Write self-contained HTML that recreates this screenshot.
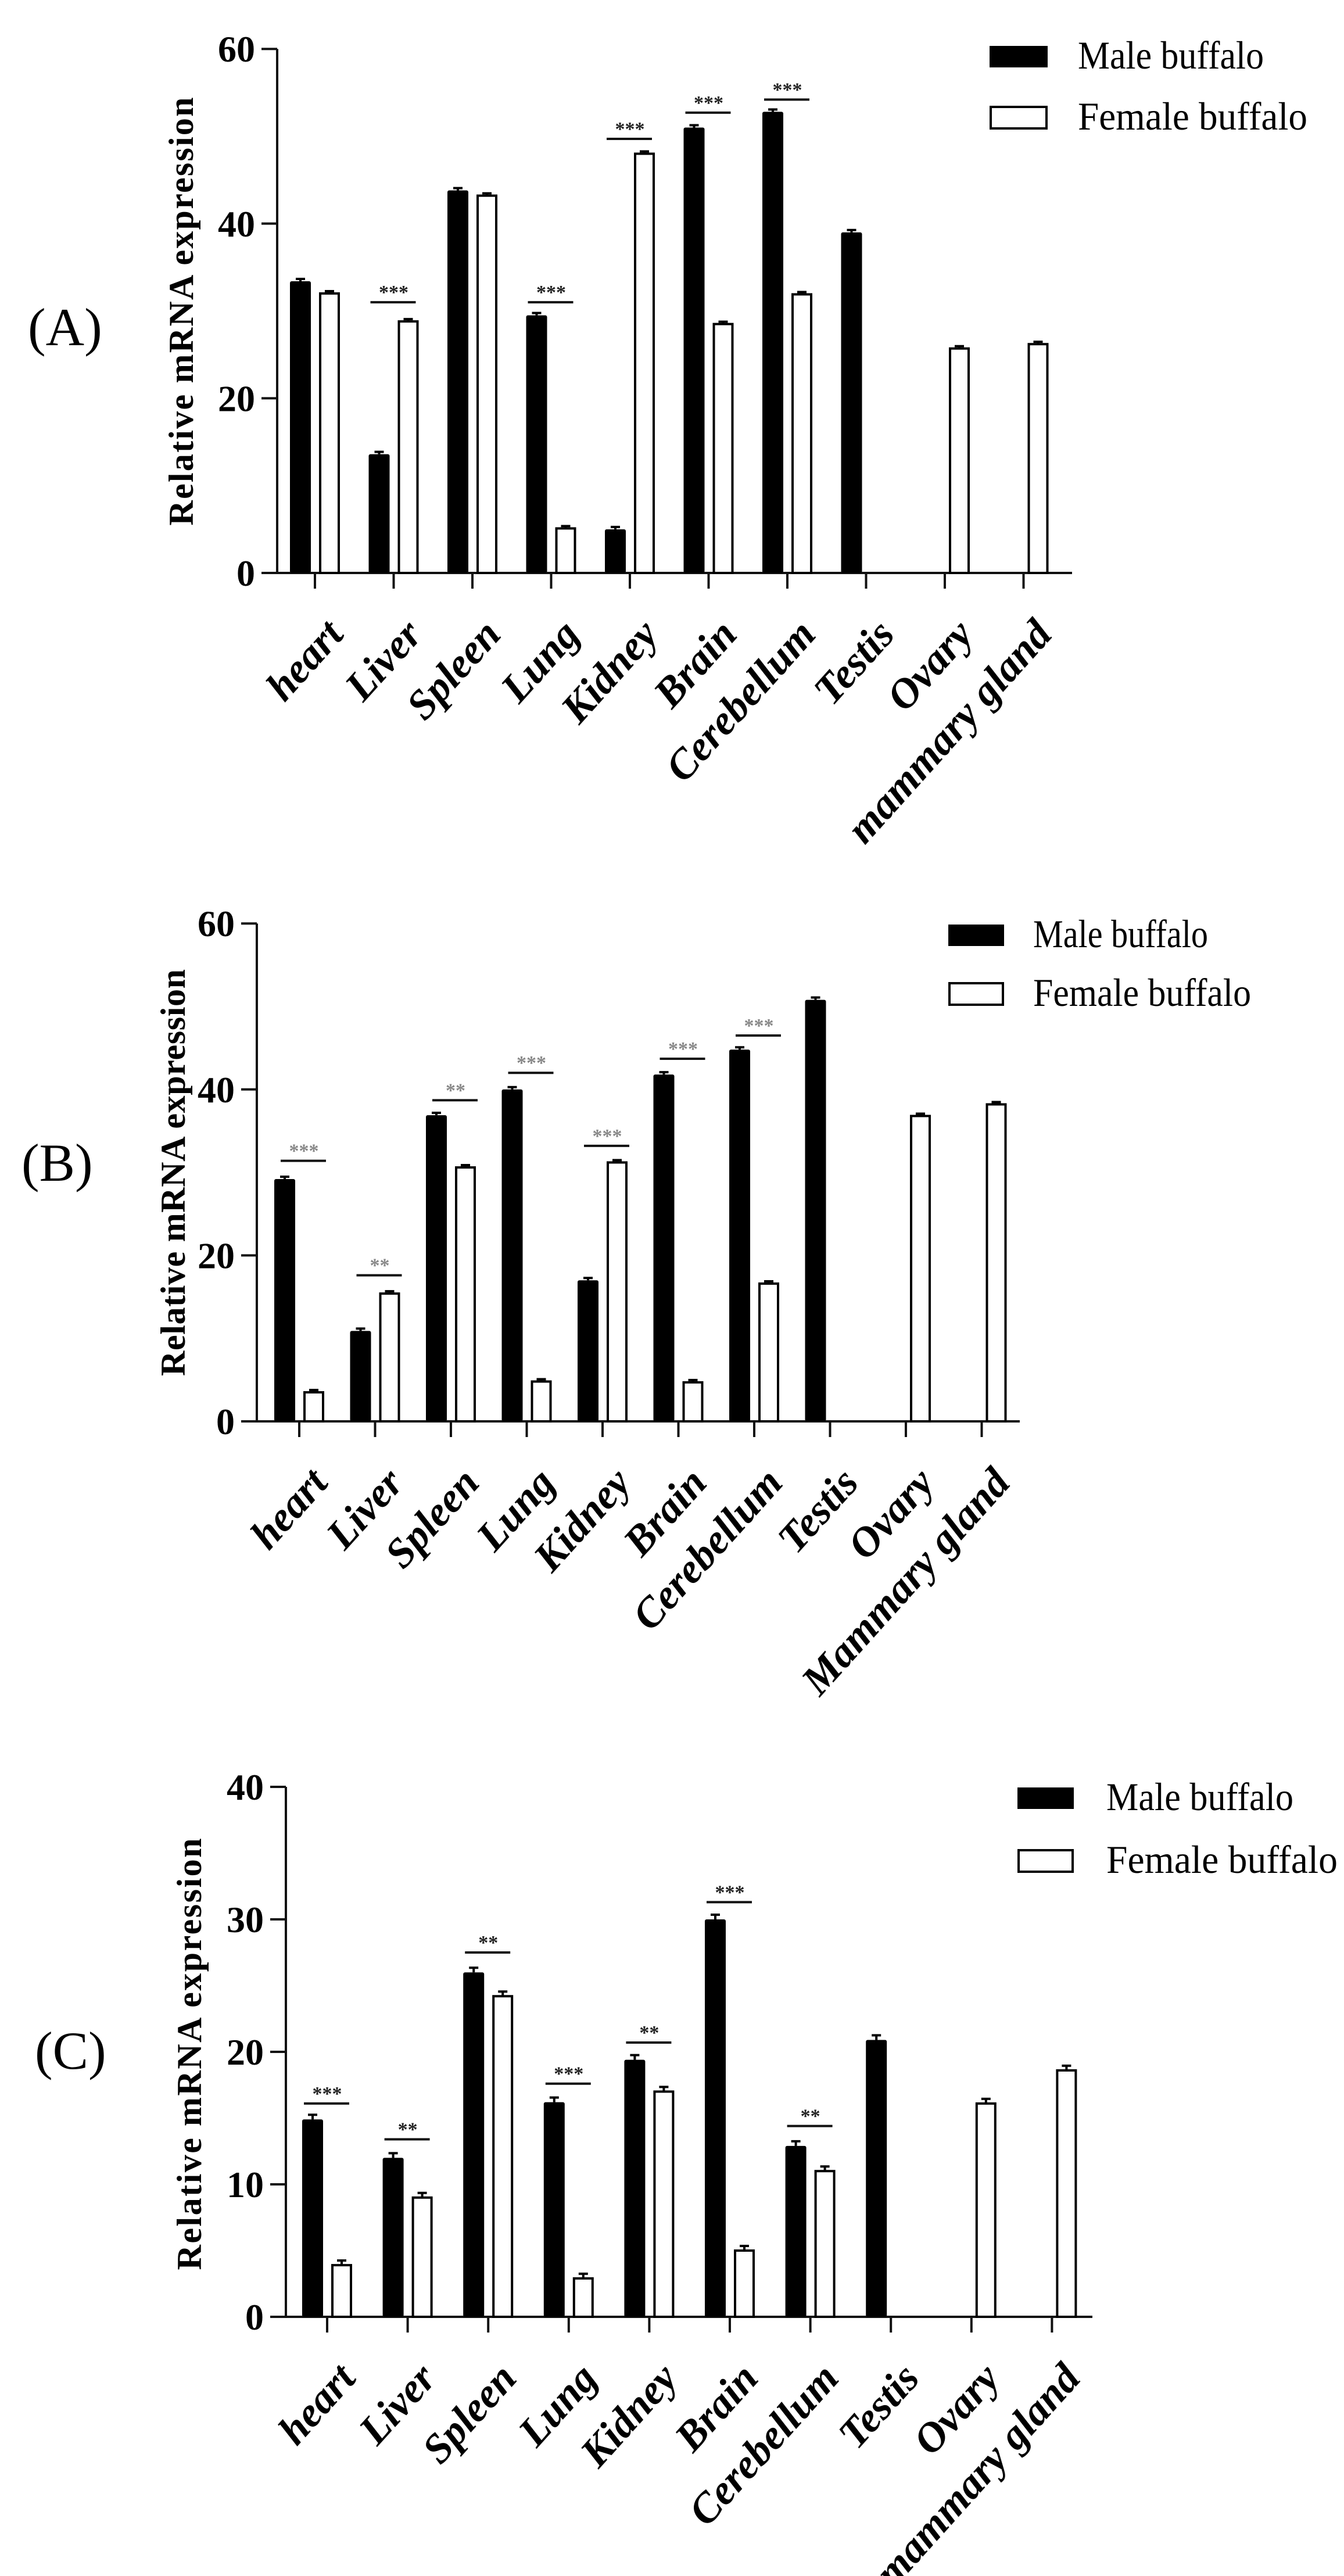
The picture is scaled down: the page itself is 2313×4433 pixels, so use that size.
<!DOCTYPE html>
<html><head><meta charset="utf-8"><style>
html,body{margin:0;padding:0;background:#fff}
svg{display:block}
text{font-family:"Liberation Serif",serif}
</style></head><body>
<svg id="s" width="2313" height="4433" viewBox="0 0 2313 4433" xmlns="http://www.w3.org/2000/svg">
<rect width="2313" height="4433" fill="#fff"/>
</svg>
<script>
var NS="http://www.w3.org/2000/svg",S=document.getElementById('s');
function el(t,a,txt){var e=document.createElementNS(NS,t);for(var k in a)e.setAttribute(k,a[k]);if(txt!=null)e.textContent=txt;S.appendChild(e);return e;}
function panel(o){
  var top=o.y0-o.ymax*o.ppu;
  el('line',{x1:o.ax,y1:top,x2:o.ax,y2:o.y0+2,stroke:'#111','stroke-width':4});
  el('line',{x1:o.ax,y1:o.y0,x2:o.xend,y2:o.y0,stroke:'#111','stroke-width':4});
  for(var v=0;v<=o.ymax;v+=o.step){
    var y=o.y0-v*o.ppu;
    el('line',{x1:o.ax-27,y1:y,x2:o.ax,y2:y,stroke:'#111','stroke-width':4});
    el('text',{x:o.ax-38,y:y+22,'text-anchor':'end','font-size':64,'font-weight':'bold'},String(v));
  }
  el('text',{transform:'translate('+o.ylx+','+o.yly+') rotate(-90)','text-anchor':'middle','font-size':60,'font-weight':'bold',textLength:o.yll,lengthAdjust:'spacing'},'Relative mRNA expression');
  el('text',{x:o.tagx,y:o.tagy,'font-size':92},o.tag);
  for(var i=0;i<10;i++){
    var c=o.c0+i*o.sp,b=o.bars[i];
    el('line',{x1:c,y1:o.y0,x2:c,y2:o.y0+27,stroke:'#111','stroke-width':4});
    if(b[0]>0){var h=b[0]*o.ppu;
      el('rect',{x:c-43,y:o.y0-h,width:36,height:h,fill:'#000',rx:3});
      el('line',{x1:c-33,y1:o.y0-h-o.eb,x2:c-17,y2:o.y0-h-o.eb,stroke:'#000','stroke-width':4});
      el('line',{x1:c-25,y1:o.y0-h-o.eb,x2:c-25,y2:o.y0-h,stroke:'#000','stroke-width':4});}
    if(b[1]>0){var h2=b[1]*o.ppu;
      el('rect',{x:c+9,y:o.y0-h2,width:32,height:h2,fill:'#fff',stroke:'#000','stroke-width':4});
      el('line',{x1:c+17,y1:o.y0-h2-o.eb,x2:c+33,y2:o.y0-h2-o.eb,stroke:'#000','stroke-width':4});
      el('line',{x1:c+25,y1:o.y0-h2-o.eb,x2:c+25,y2:o.y0-h2,stroke:'#000','stroke-width':4});}
    el('text',{transform:'translate('+(c+52)+','+(o.y0+108)+') rotate(-48)','text-anchor':'end','font-size':72,'font-weight':'bold','font-style':'italic'},o.labels[i]);
  }
  o.sig.forEach(function(s){
    var c=o.c0+s[0]*o.sp,y=o.y0-s[1]*o.ppu;
    el('line',{x1:c-40+o.sigdx,y1:y,x2:c+38+o.sigdx,y2:y,stroke:'#111','stroke-width':4});
    el('text',{x:c+o.sigdx,y:y-6,'text-anchor':'middle','font-size':34,'font-weight':'bold',fill:o.starc},s[2]);
  });
  var L=o.leg;
  el('rect',{x:L.x,y:L.y1,width:L.w,height:L.h,fill:'#000'});
  el('rect',{x:L.x+2,y:L.y2,width:L.w-4,height:L.h,fill:'#fff',stroke:'#000','stroke-width':4});
  el('text',{x:L.tx,y:L.y1+L.h+2,'font-size':68,textLength:L.l1,lengthAdjust:'spacingAndGlyphs'},'Male buffalo');
  el('text',{x:L.tx,y:L.y2+L.h+2,'font-size':68,textLength:L.l2,lengthAdjust:'spacingAndGlyphs','xml:space':'preserve'},'Female  buffalo');
}
var lab1=['heart','Liver','Spleen','Lung','Kidney','Brain','Cerebellum','Testis','Ovary','mammary gland'];
var lab2=lab1.slice();lab2[9]='Mammary gland';
panel({ax:477,y0:986,ppu:15.03,ymax:60,step:20,xend:1845,c0:542,sp:135.5,eb:4,
 bars:[[33.4,32.0],[13.6,28.8],[43.8,43.2],[29.5,5.1],[5.0,48.0],[51.0,28.5],[52.8,31.9],[39.0,0],[0,25.7],[0,26.2]],
 sig:[[1,31.0,'***'],[3,31.0,'***'],[4,49.7,'***'],[5,52.7,'***'],[6,54.2,'***']],sigdx:0,starc:'#222',
 labels:lab1,tag:'(A)',tagx:48,tagy:594,ylx:332,yly:536,yll:737,
 leg:{x:1703,y1:79,y2:184,w:100,h:37,tx:1855,l1:320,l2:395}});
panel({ax:442,y0:2446,ppu:14.28,ymax:60,step:20,xend:1755,c0:515,sp:130.5,eb:4,
 bars:[[29.2,3.5],[10.9,15.4],[36.9,30.6],[40.0,4.8],[17.0,31.2],[41.8,4.7],[44.8,16.6],[50.8,0],[0,36.8],[0,38.2]],
 sig:[[0,31.4,'***'],[1,17.6,'**'],[2,38.7,'**'],[3,42.0,'***'],[4,33.2,'***'],[5,43.7,'***'],[6,46.5,'***']],sigdx:8,starc:'#888',
 labels:lab2,tag:'(B)',tagx:37,tagy:2032,ylx:318,yly:2018,yll:700,
 leg:{x:1632,y1:1591,y2:1692,w:96,h:37,tx:1778,l1:301,l2:375}});
panel({ax:492,y0:3987,ppu:22.8,ymax:40,step:10,xend:1880,c0:563,sp:138.6,eb:8,
 bars:[[14.9,3.9],[12.0,9.0],[26.0,24.2],[16.2,2.9],[19.4,17.0],[30.0,5.0],[12.9,11.0],[20.9,0],[0,16.1],[0,18.6]],
 sig:[[0,16.1,'***'],[1,13.4,'**'],[2,27.5,'**'],[3,17.6,'***'],[4,20.7,'**'],[5,31.3,'***'],[6,14.4,'**']],sigdx:0,starc:'#222',
 labels:lab1,tag:'(C)',tagx:60,tagy:3560,ylx:346,yly:3535,yll:743,
 leg:{x:1751,y1:3076,y2:3184,w:97,h:37,tx:1904,l1:322,l2:398}});
</script>
</body></html>
